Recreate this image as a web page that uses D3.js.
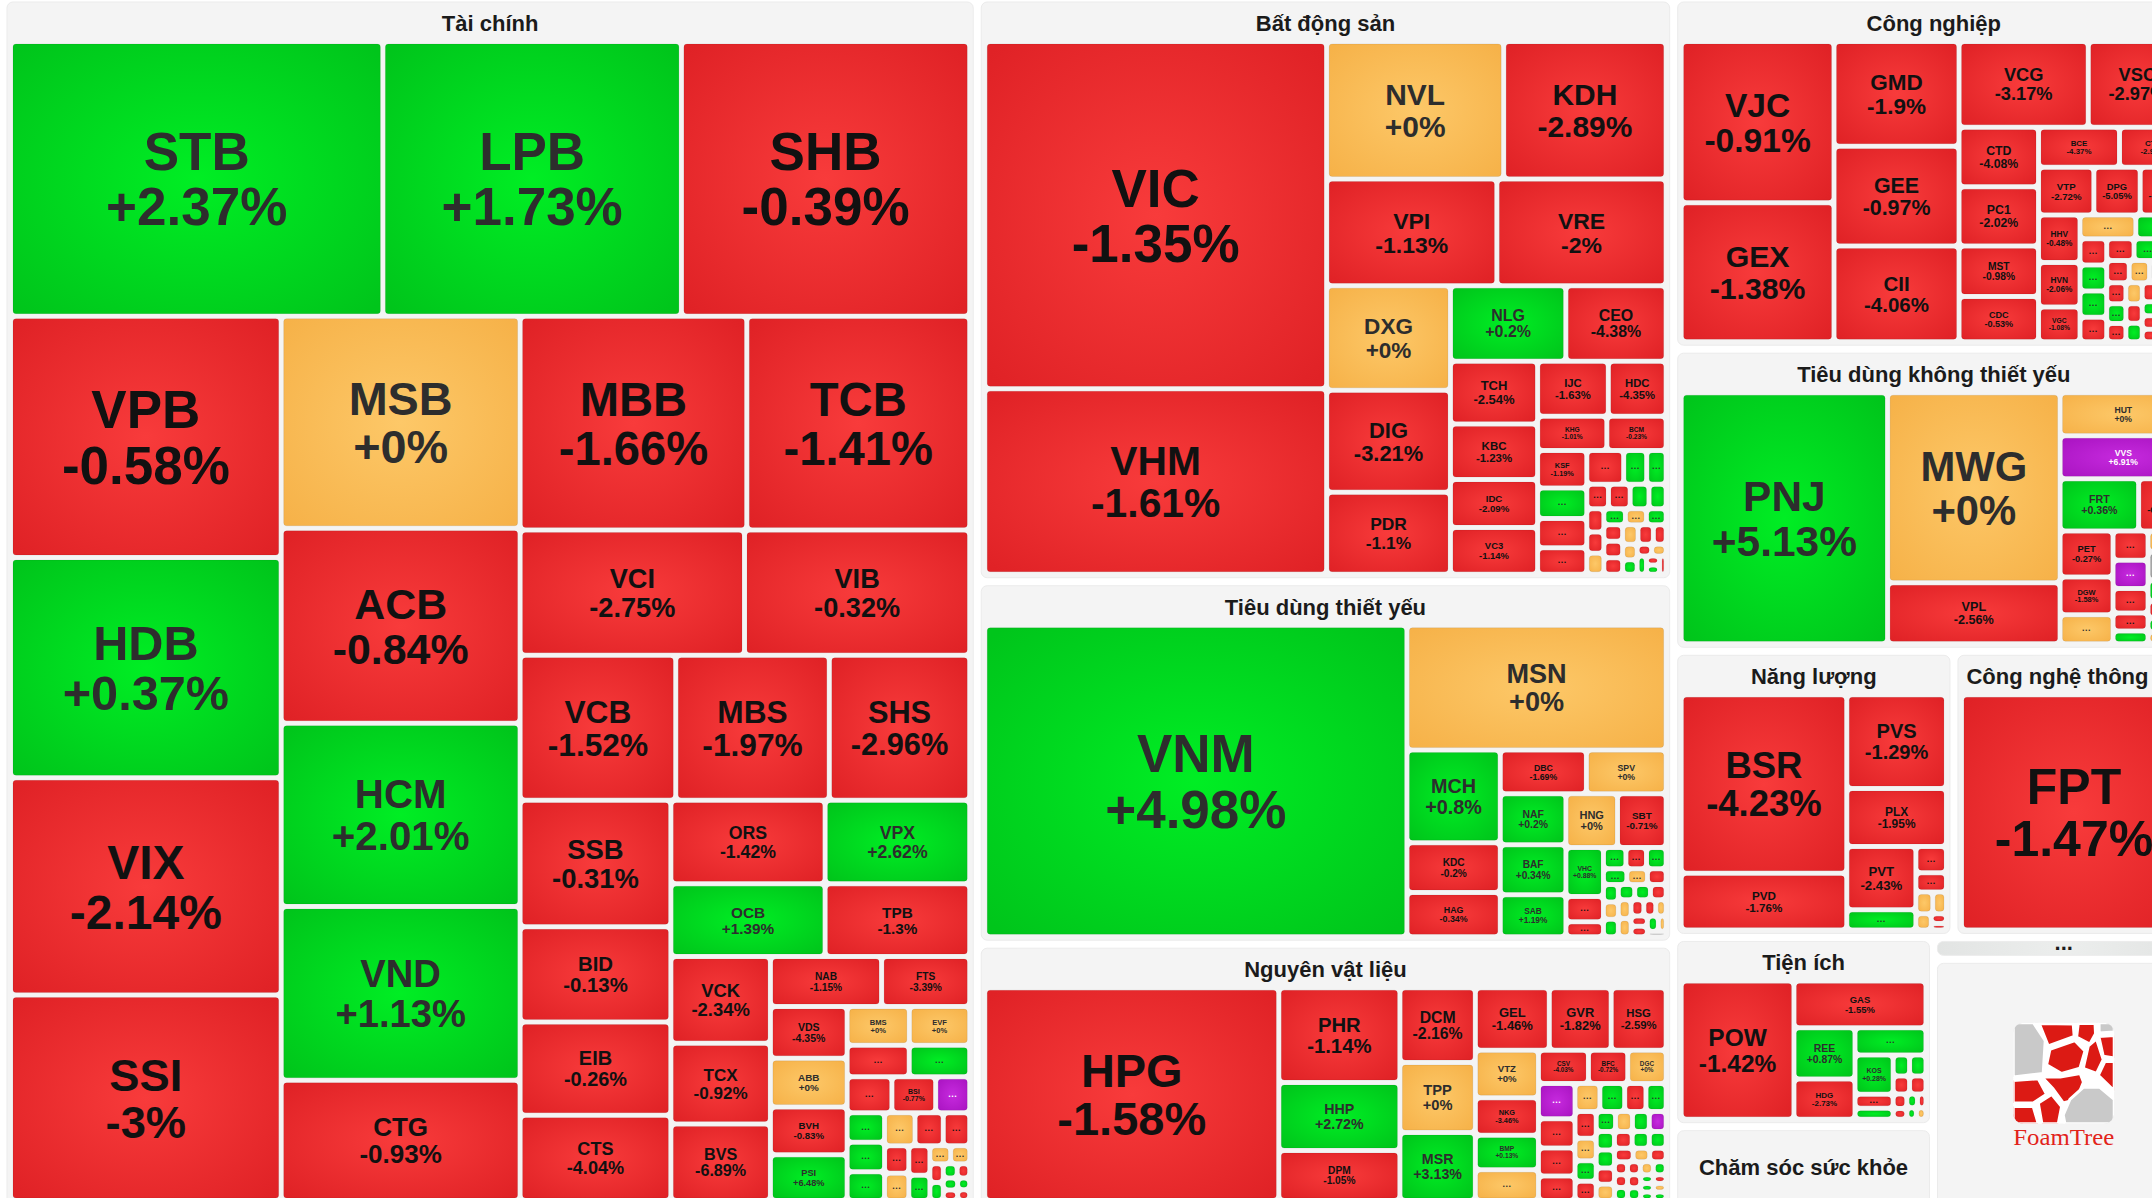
<!DOCTYPE html>
<html>
<head>
<meta charset="utf-8">
<script src="https://cdn.jsdelivr.net/npm/d3@7"></script>
<style>
  body { margin: 0; background: #fff; overflow: hidden; }
  svg { display: block; font-family: "Liberation Sans", Arial, sans-serif; }
</style>
</head>
<body>
<svg id="heatmap"></svg>
<script>
// sector name, weight of the whole sector
var sectors = [
  ["Tài chính", 11773],
  ["Bất động sản", 4060],
  ["Tiêu dùng thiết yếu", 2521],
  ["Nguyên vật liệu", 1835],
  ["Công nghiệp", 1825],
  ["Tiêu dùng không thiết yếu", 1570],
  ["Năng lượng", 801],
  ["Công nghệ thông tin", 686],
  ["Tiện ích", 491],
  ["Chăm sóc sức khỏe", 211],
  ["...", 57],
  ["FoamTree", 647]
];

// stocks: ticker, % change, weight. tickers starting with "_" are unlabeled ("...")
var taiChinh = [
  ["STB", 2.37, 1019], ["LPB", 1.73, 817], ["SHB", -0.39, 789],
  ["VPB", -0.58, 651], ["HDB", 0.37, 594], ["VIX", -2.14, 586], ["SSI", -3, 554],
  ["MSB", 0, 505], ["ACB", -0.84, 464], ["HCM", 2.01, 436], ["VND", 1.13, 414], ["CTG", -0.93, 286],
  ["MBB", -1.66, 483], ["TCB", -1.41, 475], ["VCI", -2.75, 280], ["VIB", -0.32, 281],
  ["VCB", -1.52, 225], ["MBS", -1.97, 222], ["SHS", -2.96, 203],
  ["SSB", -0.31, 190], ["BID", -0.13, 143], ["EIB", -0.26, 140], ["CTS", -4.04, 128],
  ["ORS", -1.42, 128], ["VPX", 2.62, 120], ["OCB", 1.39, 112], ["TPB", -1.3, 105],
  ["VCK", -2.34, 86], ["TCX", -0.92, 80], ["BVS", -6.89, 76],
  ["NAB", -1.15, 55.5], ["FTS", -3.39, 44],
  ["VDS", -4.35, 39.5], ["ABB", 0, 37.2], ["BVH", -0.83, 36.5], ["PSI", 6.48, 35],
  ["BMS", 0, 23.9], ["EVF", 0, 23.2], ["_1", -1, 19.5], ["_2", 1, 19], ["_3", -1, 16.1],
  ["BSI", -0.77, 15.75], ["_4", 7, 12.25], ["_5", 1, 11], ["_6", 1, 11], ["_7", 1, 10.7],
  ["_8", 0, 10], ["_9", -1, 9.3], ["_10", -1, 8.7], ["_11", -1, 6.6], ["_12", 0, 6.6],
  ["_13", -1, 6.2], ["_14", 1, 5.3], ["_15", 0, 3.7], ["_16", 0, 3.4], ["_17", -1, 2.5],
  ["_18", 1, 2.4], ["_19", 1, 2], ["_20", -1, 1.8], ["_21", 1, 1.7], ["_22", -1, 1.5],
  ["_23", 1, 1.4], ["_24", -1, 1.3]
];

var batDongSan = [
  ["VIC", -1.35, 1190], ["VHM", -1.61, 636], ["NVL", 0, 244], ["KDH", -2.89, 224],
  ["VPI", -1.13, 182], ["VRE", -2, 181], ["DXG", 0, 130], ["DIG", -3.21, 126.5], ["PDR", -1.1, 101.7],
  ["NLG", 0.2, 87.4], ["CEO", -4.38, 76], ["TCH", -2.54, 54.8], ["KBC", -1.23, 48.7],
  ["IDC", -2.09, 41.8], ["VC3", -1.14, 40.9], ["IJC", -1.63, 39], ["HDC", -4.35, 31.9],
  ["KHG", -1.01, 23.8], ["BCM", -0.23, 20.4],
  ["KSF", -1.19, 18.5], ["_1", 1, 15], ["_2", -1, 14.5], ["_3", -1, 13], ["_4", -1, 12.5],
  ["_5", 1, 7.8], ["_6", 1, 6.6], ["_7", -1, 5.3], ["_8", -1, 5.3], ["_9", 1, 4.6], ["_10", 1, 4.2],
  ["_11", -1, 4], ["_12", -1, 3.6], ["_13", 1, 3.5], ["_14", 0, 3.6], ["_15", 0, 3.4],
  ["_16", -1, 3.1], ["_17", 1, 3.2], ["_18", -1, 3.1], ["_19", -1, 3.1], ["_20", 0, 3],
  ["_21", -1, 3], ["_22", -1, 2.5], ["_23", 0, 2.25], ["_24", 1, 2.1], ["_25", -1, 1.7],
  ["_26", 0, 1.7], ["_27", 1, 1.7], ["_28", -1, 1.2], ["_29", 1, 1.2], ["_30", -1, 1.2]
];

var tieuDungThietYeu = [
  ["VNM", 4.98, 1323], ["MSN", 0, 325.7], ["MCH", 0.8, 87], ["KDC", -0.2, 46.75], ["HAG", -0.34, 41.5],
  ["DBC", -1.69, 37.8], ["SPV", 0, 35], ["NAF", 0.2, 33.7], ["BAF", 0.34, 33], ["SAB", 1.19, 27.7],
  ["HNG", 0, 27.9], ["SBT", -0.71, 26.3],
  ["VHC", 0.88, 18.5], ["_1", -1, 9.6], ["_2", -1, 5.6], ["_3", 1, 4.8], ["_4", -1, 4.4],
  ["_5", 1, 4.2], ["_6", 1, 3.75], ["_7", 0, 3.3], ["_8", -1, 3], ["_9", 1, 2.6], ["_10", 0, 2.6],
  ["_11", 1, 2.6], ["_12", 1, 2.5], ["_13", 1, 2.4], ["_14", -1, 2.4], ["_15", 0, 2.4],
  ["_16", 0, 2.3], ["_17", -1, 2.1], ["_18", -1, 1.95], ["_19", 0, 1.7], ["_20", -1, 1.7],
  ["_21", -1, 1.7], ["_22", 1, 1.7], ["_23", 0, 1.2], ["_24", null, 1]
];

var nguyenVatLieu = [
  ["HPG", -1.58, 631], ["PHR", -1.14, 115.9], ["HHP", 2.72, 83], ["DPM", -1.05, 61],
  ["DCM", -2.16, 57], ["TPP", 0, 53.2], ["MSR", 3.13, 51.7],
  ["GEL", -1.46, 46.6], ["GVR", -1.82, 39], ["HSG", -2.59, 34.65],
  ["VTZ", 0, 30.2], ["NKG", -3.46, 23.9], ["BMP", 0.13, 22], ["_o", 0, 19.5],
  ["CSV", -4.03, 16.8], ["BFC", -0.72, 13.2], ["DGC", 0, 12.9],
  ["_1", 7, 13], ["_2", -1, 10.8], ["_3", -1, 10.4], ["_4", -1, 9], ["_5", 0, 7], ["_6", 1, 7],
  ["_7", -1, 6], ["_8", 1, 5.7], ["_9", -1, 5.7], ["_10", 0, 4.8], ["_11", 1, 4.4], ["_12", -1, 4.1],
  ["_13", 1, 3.9], ["_14", 0, 3.4], ["_15", 1, 3.4], ["_16", 7, 3.4], ["_17", 1, 3.4], ["_18", 1, 3.3],
  ["_19", -1, 3], ["_20", 0, 3], ["_21", -1, 3], ["_22", 1, 2.9], ["_23", 1, 2.85], ["_24", -1, 2.55],
  ["_25", 0, 2.25], ["_26", -1, 2.25], ["_27", -1, 1.7], ["_28", -1, 1.7], ["_29", 1, 1.7],
  ["_30", -1, 1.7], ["_31", 0, 1.7], ["_32", 1, 1.7], ["_33", -1, 1.7], ["_34", 1, 1.7],
  ["_35", 1, 1.1], ["_36", -1, 1.1], ["_37", 1, 1.1], ["_38", 1, 1.1], ["_39", 0, 1.1], ["_40", 1, 1.1]
];

var congNghiep = [
  ["VJC", -0.91, 246.4], ["GEX", -1.38, 212.5], ["GMD", -1.9, 131], ["GEE", -0.97, 124.7],
  ["CII", -4.06, 119.7], ["VCG", -3.17, 110.9], ["VSC", -2.97, 84.3],
  ["CTD", -4.08, 47.2], ["PC1", -2.02, 47.2], ["MST", -0.98, 40], ["CDC", -0.53, 36],
  ["BCE", -4.37, 32.4], ["CTR", -2.91, 26.8], ["VTP", -2.72, 26.4], ["DPG", -5.05, 22.1],
  ["SCS", -1.24, 22.1], ["HHV", -0.48, 19.7], ["HVN", -2.06, 18.5], ["VGC", -1.08, 14.35],
  ["_1", 0, 13.2], ["_2", 1, 12], ["_3", -1, 7], ["_4", 1, 7], ["_5", 1, 7], ["_6", -1, 6.5],
  ["_7", -1, 6], ["_8", 1, 6], ["_9", -1, 5.5], ["_10", -1, 5], ["_11", 0, 4.5], ["_12", -1, 4.2],
  ["_13", -1, 4], ["_14", -1, 4], ["_15", 1, 3.8], ["_16", -1, 3.5], ["_17", 0, 3.4], ["_18", -1, 3.2],
  ["_19", 1, 3], ["_20", -1, 3], ["_21", 0, 2.8], ["_22", -1, 2.6], ["_23", 1, 2.5], ["_24", -1, 2.4],
  ["_25", -1, 2.2], ["_26", 1, 2], ["_27", 0, 2], ["_28", -1, 1.8], ["_29", 1, 1.7], ["_30", -1, 1.6],
  ["_31", 1, 1.5]
];

var tieuDungKhong = [
  ["PNJ", 5.13, 519.6], ["MWG", 0, 328.7], ["VPL", -2.56, 105.5], ["HUT", 0, 54.6], ["VVS", 6.91, 54.6],
  ["FRT", 0.36, 41], ["MSH", -0.85, 25], ["PET", -0.27, 24.4], ["DGW", -1.58, 20.1], ["_o", 0, 15.4],
  ["_1", -1, 10.3], ["_2", 7, 9.9], ["_3", -1, 8.6], ["_4", 0, 8], ["_5", -1, 6.3], ["_6", null, 6],
  ["_7", 0, 5], ["_8", 1, 4.5], ["_9", 1, 4], ["_10", 0, 4], ["_11", -1, 3.5], ["_12", -1, 3],
  ["_13", 1, 3], ["_14", 0, 2.5], ["_15", -1, 2.5], ["_16", -1, 2]
];

var nangLuong = [
  ["BSR", -4.23, 297.3], ["PVD", -1.76, 94.4], ["PVS", -1.29, 94], ["PLX", -1.95, 58],
  ["PVT", -2.43, 44.1], ["_g", 1, 14],
  ["_1", -1, 8.1], ["_2", -1, 5.9], ["_3", 0, 3.7], ["_4", 0, 3], ["_5", 0, 2.5], ["_6", -1, 1.5], ["_7", -1, 1]
];

var congNghe = [["FPT", -1.47, 100]];

var tienIch = [
  ["POW", -1.42, 158.5], ["GAS", -1.55, 62.9], ["REE", 0.87, 31.7], ["HDG", -2.73, 25],
  ["_g", 1, 19.6], ["KOS", 0.28, 15.2], ["_r", -1, 5.5], ["_g2", 1, 4.2],
  ["_1", 1, 3.5], ["_2", 1, 3.5], ["_3", -1, 3], ["_4", -1, 3], ["_5", -1, 2], ["_6", -1, 1.5],
  ["_7", 1, 1.5], ["_8", -1, 1.2], ["_9", 1, 1.1], ["_10", 0, 1.1]
];

// nesting of the tiles: "row" = side by side, "col" = stacked, "*" = the remaining small stocks
var topLayout = ["row", "Tài chính",
  ["col", "Bất động sản", "Tiêu dùng thiết yếu", "Nguyên vật liệu"],
  ["col", "Công nghiệp", "Tiêu dùng không thiết yếu",
    ["row", "Năng lượng", "Công nghệ thông tin"],
    ["row", ["col", "Tiện ích", "Chăm sóc sức khỏe"], ["col", "...", "FoamTree"]]]];

var taiChinhLayout = ["col",
  ["row", "STB", "LPB", "SHB"],
  ["row",
    ["col", "VPB", "HDB", "VIX", "SSI"],
    ["col", "MSB", "ACB", "HCM", "VND", "CTG"],
    ["col",
      ["row", "MBB", "TCB"],
      ["row", "VCI", "VIB"],
      ["row", "VCB", "MBS", "SHS"],
      ["row",
        ["col", "SSB", "BID", "EIB", "CTS"],
        ["col",
          ["row", "ORS", "VPX"],
          ["row", "OCB", "TPB"],
          ["row",
            ["col", "VCK", "TCX", "BVS"],
            ["col",
              ["row", "NAB", "FTS"],
              ["row", ["col", "VDS", "ABB", "BVH", "PSI"],
                ["col", ["row", "BMS", "EVF"], ["row", "_1", "_2"], ["row", "_3", "BSI", "_4"],
                  ["row", ["col", "_5", "_6", "_7"], "*"]]]]]]]]]];

var batDongSanLayout = ["row",
  ["col", "VIC", "VHM"],
  ["col",
    ["row", "NVL", "KDH"],
    ["row", "VPI", "VRE"],
    ["row",
      ["col", "DXG", "DIG", "PDR"],
      ["col",
        ["row", "NLG", "CEO"],
        ["row",
          ["col", "TCH", "KBC", "IDC", "VC3"],
          ["col", ["row", "IJC", "HDC"], ["row", "KHG", "BCM"],
            ["row", ["col", "KSF", "_1", "_2", "_3"], "*"]]]]]]];

var tieuDungThietYeuLayout = ["row", "VNM",
  ["col", "MSN",
    ["row",
      ["col", "MCH", "KDC", "HAG"],
      ["col", ["row", "DBC", "SPV"],
        ["row", ["col", "NAF", "BAF", "SAB"],
          ["col", ["row", "HNG", "SBT"],
            ["row", ["col", "VHC", "_1", "_2"], "*"]]]]]]];

var nguyenVatLieuLayout = ["row", "HPG",
  ["col", "PHR", "HHP", "DPM"],
  ["col", "DCM", "TPP", "MSR"],
  ["col", ["row", "GEL", "GVR", "HSG"],
    ["row", ["col", "VTZ", "NKG", "BMP", "_o"],
      ["col", ["row", "CSV", "BFC", "DGC"],
        ["row", ["col", "_1", "_2", "_3", "_4"], "*"]]]]];

var congNghiepLayout = ["row",
  ["col", "VJC", "GEX"],
  ["col", "GMD", "GEE", "CII"],
  ["col", ["row", "VCG", "VSC"],
    ["row", ["col", "CTD", "PC1", "MST", "CDC"],
      ["col", ["row", "BCE", "CTR"], ["row", "VTP", "DPG", "SCS"],
        ["row", ["col", "HHV", "HVN", "VGC"],
          ["col", ["row", "_1", "_2"], "*"]]]]]];

var tieuDungKhongLayout = ["row", "PNJ",
  ["col", "MWG", "VPL"],
  ["col", "HUT", "VVS", ["row", "FRT", "MSH"],
    ["row", ["col", "PET", "DGW", "_o"],
      ["row", ["col", "_1", "_2", "_3", "_5", "_8"], "*"]]]];

var nangLuongLayout = ["row",
  ["col", "BSR", "PVD"],
  ["col", "PVS", "PLX", ["row", ["col", "PVT", "_g"], "*"]]];

var tienIchLayout = ["row", "POW",
  ["col", "GAS",
    ["row", ["col", "REE", "HDG"],
      ["col", "_g", ["row", ["col", "KOS", "_r", "_g2"], "*"]]]]];

var sectorTable = {
  "Tài chính": [taiChinh, taiChinhLayout],
  "Bất động sản": [batDongSan, batDongSanLayout],
  "Tiêu dùng thiết yếu": [tieuDungThietYeu, tieuDungThietYeuLayout],
  "Nguyên vật liệu": [nguyenVatLieu, nguyenVatLieuLayout],
  "Công nghiệp": [congNghiep, congNghiepLayout],
  "Tiêu dùng không thiết yếu": [tieuDungKhong, tieuDungKhongLayout],
  "Năng lượng": [nangLuong, nangLuongLayout],
  "Công nghệ thông tin": [congNghe, "FPT"],
  "Tiện ích": [tienIch, tienIchLayout]
};

//------------------------------------------------------------------

var chart = {width: 2183, height: 1202, left: 7, top: 2};

var flatten = function(spec, out)
{
    if (typeof spec === "string") out.push(spec);
    else spec.slice(1).forEach(function(s) { flatten(s, out); });
    return out;
}

// turns one sector's stock list + nesting into a tree, weights scaled to the sector weight
var buildSector = function(name, weight)
{
    var node = {sector: name};
    var entry = sectorTable[name];
    if (!entry) { node.value = weight; return node; }
    var stocks = entry[0], layout = entry[1];
    var k = weight / d3.sum(stocks, function(s) { return s[2]; });
    var lookup = new Map(stocks.map(function(s)
    {
        return [s[0], {code: s[0], pct: s[1], value: s[2] * k}];
    }));
    var placed = new Set(flatten(layout, []));
    var rest = stocks.filter(function(s) { return !placed.has(s[0]); })
                     .map(function(s) { return lookup.get(s[0]); })
                     .sort(function(a, b) { return b.value - a.value; });
    var build = function(spec)
    {
        if (spec === "*") return {dir: "sq", children: rest};
        if (typeof spec === "string") return lookup.get(spec);
        return {dir: spec[0], children: spec.slice(1).map(build)};
    }
    node.children = [build(layout)];
    return node;
}

var sectorNodes = new Map(sectors.map(function(s) { return [s[0], buildSector(s[0], s[1])]; }));

var buildTop = function(spec)
{
    if (typeof spec === "string") return sectorNodes.get(spec);
    return {dir: spec[0], top: true, children: spec.slice(1).map(buildTop)};
}

var squarify = d3.treemapSquarify.ratio(1);
var tile = function(node, x0, y0, x1, y1)
{
    var dir = node.data.dir;
    if (dir === "row") d3.treemapDice(node, x0, y0, x1, y1);
    else if (dir === "col") d3.treemapSlice(node, x0, y0, x1, y1);
    else squarify(node, x0, y0, x1, y1);
}

var isSector = function(d) { return !!d.data.sector; };

var treemap = d3.treemap()
    .tile(tile)
    .size([chart.width, chart.height])
    .paddingInner(function(d) { return d.data.top ? 8 : 5; })
    .paddingTop(function(d) { return isSector(d) ? 42 : 0; })
    .paddingLeft(function(d) { return isSector(d) ? 6 : 0; })
    .paddingRight(function(d) { return isSector(d) ? 6 : 0; })
    .paddingBottom(function(d) { return isSector(d) ? 6 : 0; });

var root = treemap(d3.hierarchy(buildTop(topLayout)).sum(function(d) { return d.value || 0; }));

//------------------------------------------------------------------

var svg = d3.select("#heatmap").attr("width", 2200).attr("height", 1210);
var defs = svg.append("defs");

var palette = {
    red: ["#f83b3b", "#e02226"],
    green: ["#00ee24", "#00c51b"],
    orange: ["#fdc868", "#f6b249"],
    purple: ["#c62ade", "#aa14c2"],
    gray: ["#b8b8b8", "#9c9c9c"]
};
Object.keys(palette).forEach(function(key)
{
    var grad = defs.append("radialGradient").attr("id", "fill-" + key)
                   .attr("cx", "50%").attr("cy", "50%").attr("r", "68%");
    grad.append("stop").attr("offset", "0%").attr("stop-color", palette[key][0]);
    grad.append("stop").attr("offset", "100%").attr("stop-color", palette[key][1]);
});
var bar = defs.append("linearGradient").attr("id", "fill-bar").attr("x1", 0).attr("x2", 1);
bar.append("stop").attr("offset", "0%").attr("stop-color", "#e2e4e3");
bar.append("stop").attr("offset", "50%").attr("stop-color", "#eceeed");
bar.append("stop").attr("offset", "100%").attr("stop-color", "#e2e4e3");

var colorKey = function(p)
{
    if (p === null) return "gray";
    if (p >= 6.9) return "purple";
    if (p > 0) return "green";
    if (p < 0) return "red";
    return "orange";
}
var textColor = function(p)
{
    var c = colorKey(p);
    if (c === "purple") return "#ffffff";
    if (c === "red") return "#111111";
    return "#2d2d2d";
}
var fmtPct = function(p) { return (p >= 0 ? "+" : "") + p + "%"; };

var ctx = document.createElement("canvas").getContext("2d");
ctx.font = "bold 100px 'Liberation Sans', Arial, sans-serif";
var em = function(s) { return ctx.measureText(s).width / 100; };

var target = svg.append("g")
    .attr("transform", "translate(" + chart.left + "," + chart.top + ")");

// sector boxes
var sectorList = root.descendants().filter(isSector);
target.selectAll("rect.sector")
      .data(sectorList)
      .enter()
      .append("rect")
      .classed("sector", true)
      .attr("x", function(d) { return d.x0; })
      .attr("y", function(d) { return d.y0; })
      .attr("width", function(d) { return d.x1 - d.x0; })
      .attr("height", function(d) { return d.y1 - d.y0; })
      .attr("rx", 6)
      .attr("fill", function(d) { return d.data.sector === "..." ? "url(#fill-bar)" : "#f4f4f4"; })
      .attr("stroke", "#ebebeb");

// sector titles
target.selectAll("text.title")
      .data(sectorList.filter(function(d) { return d.data.sector !== "FoamTree"; }))
      .enter()
      .append("text")
      .classed("title", true)
      .text(function(d) { return d.data.sector; })
      .attr("text-anchor", "middle")
      .attr("font-size", 22)
      .attr("font-weight", "bold")
      .attr("fill", "#1b1b1b")
      .attr("x", function(d) { return (d.x0 + d.x1) / 2; })
      .attr("y", function(d)
      {
          if (d.children) return d.y0 + 29;
          var mid = (d.y0 + d.y1) / 2;
          return d.data.sector === "..." ? mid + 2 : mid + 8;
      });

// stock cells
var cells = root.leaves().filter(function(d) { return d.data.code; });
target.selectAll("rect.cell")
      .data(cells)
      .enter()
      .append("rect")
      .classed("cell", true)
      .attr("x", function(d) { return d.x0; })
      .attr("y", function(d) { return d.y0; })
      .attr("width", function(d) { return Math.max(0, d.x1 - d.x0); })
      .attr("height", function(d) { return Math.max(0, d.y1 - d.y0); })
      .attr("rx", 3)
      .attr("fill", function(d) { return "url(#fill-" + colorKey(d.data.pct) + ")"; })
      .attr("stroke", "rgba(0,0,0,0.07)");

// labels, sized to fit each cell
var labels = target.append("g").classed("labels", true);
cells.forEach(function(d)
{
    var w = d.x1 - d.x0, h = d.y1 - d.y0;
    var cx = (d.x0 + d.x1) / 2, cy = (d.y0 + d.y1) / 2;
    if (d.data.code.charAt(0) === "_")
    {
        if (w < 14 || h < 8) return;
        labels.append("text")
              .text("...")
              .attr("text-anchor", "middle")
              .attr("font-size", 9)
              .attr("font-weight", "bold")
              .attr("letter-spacing", 0.5)
              .attr("fill", textColor(d.data.pct))
              .attr("x", cx)
              .attr("y", cy + 2);
        return;
    }
    var pct = fmtPct(d.data.pct);
    var widest = Math.max(em(d.data.code), em(pct));
    var f = Math.min(53, 0.226 * h, 0.72 * w / widest);
    if (f < 4) return;
    var lh = 1.04 * f;
    var b2 = cy + (0.72 * f + lh) / 2;
    var t = labels.append("text")
                  .attr("text-anchor", "middle")
                  .attr("font-size", f)
                  .attr("font-weight", "bold")
                  .attr("fill", textColor(d.data.pct));
    t.append("tspan").attr("x", cx).attr("y", b2 - lh).text(d.data.code);
    t.append("tspan").attr("x", cx).attr("y", b2).text(pct);
});

// FoamTree mark in its own box
var logoCells = [
  ["g", [[0,0],[20,0],[31.7,17.8],[29.7,50.3],[0,53.8]]],
  ["r", [[25.7,0.7],[59.4,1.4],[60.4,13.7],[34.6,22.9]]],
  ["r", [[64.4,0.7],[81,0.7],[81.5,11],[75.9,21.2],[62.7,14.4]]],
  ["g", [[85,0],[100,0],[100,9.2],[85,10.3]]],
  ["r", [[84.8,13.7],[100,12.7],[100,35],[89.1,33.2]]],
  ["r", [[36.3,26.4],[61.1,17.8],[71,28.1],[66,45.2],[47.9,50.3],[33,41.8]]],
  ["r", [[74.3,23],[82.5,16.1],[89.1,36.6],[82.5,50.3],[69.3,45.2]]],
  ["r", [[84.2,52.1],[90.8,38.4],[100,38.4],[100,67.5]]],
  ["r", [[28.4,53.8],[46.5,53.8],[66.3,50.3],[69.6,58.9],[62.7,76],[49.5,79.5],[39.6,65.8]]],
  ["r", [[0,57.2],[24.8,55.5],[33,71],[19.8,79.5],[0,79.5]]],
  ["r", [[0,83],[19.8,83],[24.8,100],[0,100]]],
  ["r", [[24.8,79.5],[38,71],[47.9,83],[44.6,100],[28.4,100]]],
  ["g", [[49.5,91.4],[56.1,76],[69.3,64],[85.8,64],[100,76],[100,100],[51.2,100]]]
];
var drawLogo = function(box)
{
    var size = 101;
    var cx = (box.x0 + box.x1) / 2, cy = (box.y0 + box.y1) / 2;
    var lx = cx - size / 2, ly = cy - 61;
    defs.append("clipPath").attr("id", "logo-clip")
        .append("rect").attr("x", 0).attr("y", 0).attr("width", 100).attr("height", 100).attr("rx", 10);
    var logo = target.append("g")
        .attr("transform", "translate(" + lx + "," + ly + ") scale(" + size / 100 + ")");
    var inner = logo.append("g").attr("clip-path", "url(#logo-clip)");
    inner.append("rect").attr("width", 100).attr("height", 100).attr("fill", "#ffffff");
    inner.selectAll("path")
         .data(logoCells)
         .enter()
         .append("path")
         .attr("d", function(c) { return "M" + c[1].join("L") + "Z"; })
         .attr("fill", function(c) { return c[0] === "r" ? "#dc1a14" : "#c9c9c9"; })
         .attr("stroke", "#ffffff")
         .attr("stroke-width", 3)
         .attr("stroke-linejoin", "round");
    target.append("text")
          .text("FoamTree")
          .attr("x", lx)
          .attr("y", cy + 61)
          .attr("textLength", size)
          .attr("lengthAdjust", "spacingAndGlyphs")
          .attr("font-family", "'Liberation Serif', 'DejaVu Serif', serif")
          .attr("font-size", 24)
          .attr("fill", "#e2231a");
}
sectorList.filter(function(d) { return d.data.sector === "FoamTree"; }).forEach(drawLogo);
</script>
</body>
</html>
